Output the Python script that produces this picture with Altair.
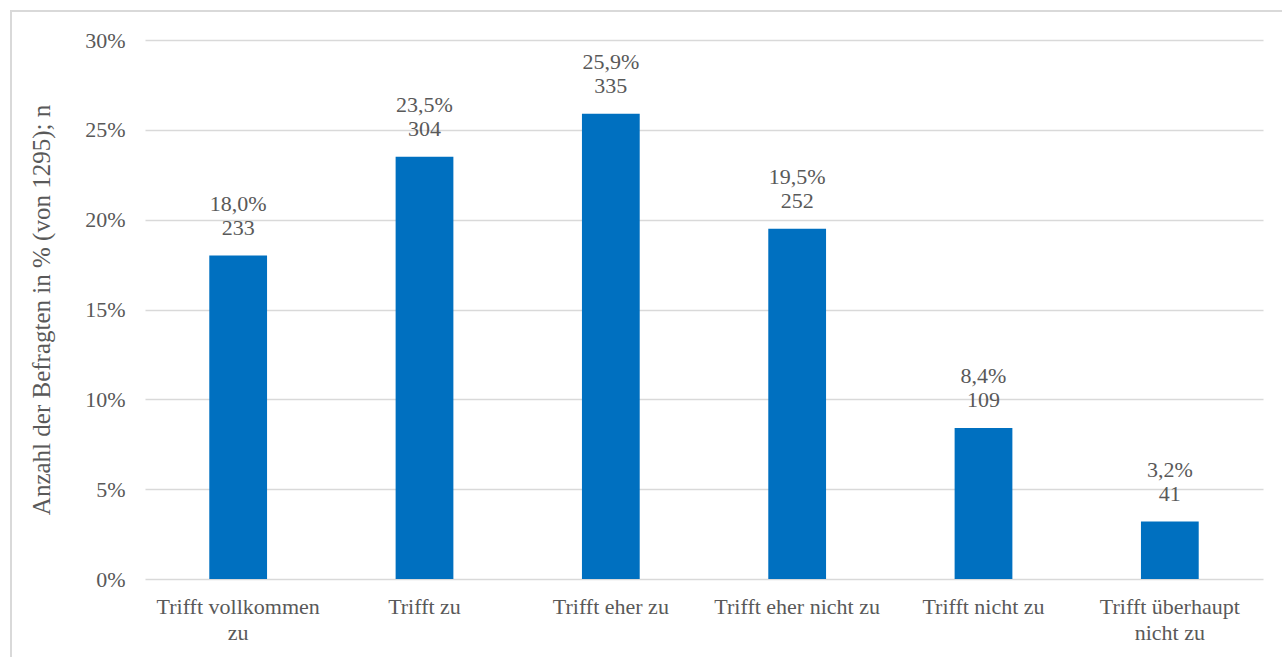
import altair as alt
import pandas as pd

categories = ["Trifft vollkommen zu", "Trifft zu", "Trifft eher zu",
              "Trifft eher nicht zu", "Trifft nicht zu", "Trifft überhaupt nicht zu"]
wrapped = [["Trifft vollkommen", "zu"], ["Trifft zu"], ["Trifft eher zu"],
           ["Trifft eher nicht zu"], ["Trifft nicht zu"], ["Trifft überhaupt", "nicht zu"]]
percent = [18.0, 23.5, 25.9, 19.5, 8.4, 3.2]
counts = [233, 304, 335, 252, 109, 41]

df = pd.DataFrame({
    "cat": categories,
    "pct": [p / 100 for p in percent],
    "plabel": [f"{p:.1f}".replace(".", ",") + "%" for p in percent],
    "nlabel": [str(n) for n in counts],
})

FONT = "Liberation Serif"
GREY = "#595959"
W, H = 1118, 539
FS = 22

label_expr = " : ".join(
    f"datum.label == '{c}' ? {w!r}" for c, w in zip(categories, wrapped)
) + " : datum.label"

xenc = alt.X("cat:N", sort=categories, title=None,
             scale=alt.Scale(paddingInner=0.69, paddingOuter=0.345),
             axis=alt.Axis(labelAngle=0, labelExpr=label_expr, labelFont=FONT,
                           labelFontSize=FS, labelColor=GREY, labelPadding=17,
                           labelLineHeight=26, domain=False, ticks=False, labelLimit=300))
yenc = alt.Y("pct:Q", title="Anzahl der Befragten in % (von 1295); n",
             scale=alt.Scale(domain=[0, 0.3]),
             axis=alt.Axis(format=".0%", values=[0, .05, .1, .15, .2, .25, .3],
                           labelFont=FONT, labelFontSize=FS, labelColor=GREY,
                           titleFont=FONT, titleFontSize=25, titleColor=GREY,
                           titleFontWeight="normal", titlePadding=30, labelPadding=20,
                           domain=False, ticks=False, gridColor="#D9D9D9", gridWidth=1.5))

bars = alt.Chart(df).mark_bar(color="#0070C0").encode(x=xenc, y=yenc)
xs = alt.X("cat:N", sort=categories)
ptext = alt.Chart(df).mark_text(font=FONT, fontSize=FS, color=GREY, baseline="middle",
                                dy=-52).encode(x=xs, y="pct:Q", text="plabel:N")
ntext = alt.Chart(df).mark_text(font=FONT, fontSize=FS, color=GREY, baseline="middle",
                                dy=-28).encode(x=xs, y="pct:Q", text="nlabel:N")

border = alt.Chart(df).mark_rect(fill=None, stroke="#D9D9D9", strokeWidth=1.5, clip=False).encode(
    x=alt.value(-134), x2=alt.value(1200), y=alt.value(-29), y2=alt.value(680))

chart = (border + bars + ptext + ntext).properties(
    width=W, height=H,
    autosize=alt.AutoSizeParams(type="none"),
    padding={"left": 145, "top": 40, "right": 19, "bottom": 78},
    background="white",
).configure_view(stroke=None)

chart.save("out.html", embed_options={"renderer": "svg", "actions": False})
